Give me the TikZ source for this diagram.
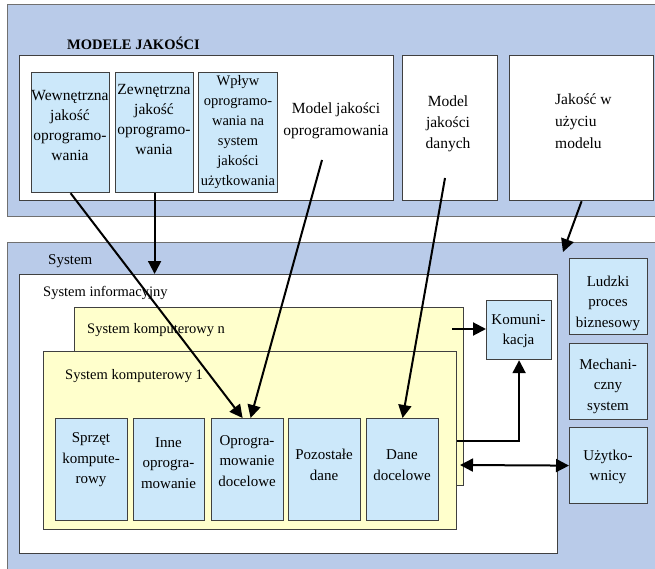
\documentclass[tikz,border=0pt]{standalone}
\usepackage{fontspec}
\setmainfont{Liberation Serif}
\usetikzlibrary{arrows.meta,calc}

\definecolor{framecol}{HTML}{404040}
\definecolor{panelblue}{HTML}{B9CBE9}
\definecolor{cellblue}{HTML}{CCE8FA}
\definecolor{cellyellow}{HTML}{FFFFCC}

\tikzset{
  box/.style={draw=framecol, line width=1.2pt, anchor=north west, inner sep=0pt},
  outerpanel/.style={box, fill=panelblue, draw=framecol!75},
  whitepanel/.style={box, fill=white},
  yellowpanel/.style={box, fill=cellyellow},
  cell/.style={box, fill=cellblue},
  txt/.style={font=\fontsize{15}{20.5}\selectfont, align=center, inner sep=0pt},
  ltxt/.style={font=\fontsize{14.5}{20.5}\selectfont, anchor=west, inner sep=0pt},
  tip/.style={Triangle[length=13pt,width=13pt]},
  conn/.style={-{Triangle[length=13pt,width=13pt]}, line width=2pt},
  bothconn/.style={{Triangle[length=13pt,width=13pt]}-{Triangle[length=13pt,width=13pt]}, line width=2pt},
}

\begin{document}
\begin{tikzpicture}[x=1pt,y=-1pt]
\useasboundingbox (0,0) rectangle (655,569);

% ---------- quality models panel ----------
\node[outerpanel, minimum width=653, minimum height=212] (top) at (7,4) {};
\node[txt, anchor=west, font=\fontsize{14.5}{20}\selectfont\bfseries] (title) at (67,43) {MODELE JAKOŚCI};
\node[whitepanel, minimum width=374, minimum height=145] (swq) at (19,55) {};
\node[cell, minimum width=78, minimum height=120] (w1) at (31,72) {};
\node[cell, minimum width=78, minimum height=120] (w2) at (115,72) {};
\node[cell, minimum width=79, minimum height=120] (w3) at (198,72) {};
\node[whitepanel, minimum width=95, minimum height=145] (mdane) at (402,55) {};
\node[whitepanel, minimum width=144, minimum height=145] (muse) at (509,55) {};

\node[txt, font=\fontsize{15.5}{20}\selectfont] (tw1) at (70,126) {Wewnętrzna\\jakość\\oprogramo-\\wania};
\node[txt, font=\fontsize{15.5}{20}\selectfont] (tw2) at (154,120) {Zewnętrzna\\jakość\\oprogramo-\\wania};
\node[txt, font=\fontsize{14.5}{20}\selectfont] (tw3) at (238,132) {Wpływ\\oprogramo-\\wania na\\system\\jakości\\użytkowania};
\node[txt, font=\fontsize{15.5}{22}\selectfont] (tswq) at (336,121) {Model jakości\\oprogramowania};
\node[txt, font=\fontsize{15.5}{21}\selectfont] (tmdane) at (448,124) {Model\\jakości\\danych};
\node[txt, align=left, anchor=west, font=\fontsize{15.5}{22}\selectfont] (tmuse) at (555,121) {Jakość w\\użyciu\\modelu};

% ---------- system panel ----------
\node[outerpanel, minimum width=653, minimum height=338] (sys) at (7,242) {};
\node[ltxt, font=\fontsize{15}{20}\selectfont] (tsys) at (48,261) {System};
\node[whitepanel, minimum width=538, minimum height=279] (sinfo) at (19,274) {};
\node[ltxt] (tsinfo) at (43,293) {System informacyjny};
\node[yellowpanel, minimum width=389, minimum height=178] (kn) at (74,307) {};
\node[ltxt] (tkn) at (87,330) {System komputerowy n};
\node[yellowpanel, minimum width=413, minimum height=178] (k1) at (43,351) {};
\node[ltxt] (tk1) at (65,376) {System komputerowy 1};

\node[cell, minimum width=72, minimum height=102] (b1) at (55,418) {};
\node[cell, minimum width=71, minimum height=102] (b2) at (133,418) {};
\node[cell, minimum width=72, minimum height=102] (b3) at (211,418) {};
\node[cell, minimum width=72, minimum height=102] (b4) at (288,418) {};
\node[cell, minimum width=72, minimum height=102] (b5) at (366,418) {};
\node[txt] (tb1) at (91,460) {Sprzęt\\kompute-\\rowy};
\node[txt] (tb2) at (168.5,463) {Inne\\oprogra-\\mowanie};
\node[txt] (tb3) at (247,461) {Oprogra-\\mowanie\\docelowe};
\node[txt] (tb4) at (324,465) {Pozostałe\\dane};
\node[txt] (tb5) at (402,465) {Dane\\docelowe};

\node[cell, minimum width=65, minimum height=59] (kom) at (486,300) {};
\node[txt] (tkom) at (518.5,331) {Komuni-\\kacja};
\node[cell, minimum width=78, minimum height=76] (lud) at (569,258) {};
\node[txt] (tlud) at (608,303) {Ludzki\\proces\\biznesowy};
\node[cell, minimum width=78, minimum height=76] (mech) at (569,343) {};
\node[txt] (tmech) at (608,386) {Mechani-\\czny\\system};
\node[cell, minimum width=78, minimum height=76] (uzyt) at (569,427) {};
\node[txt] (tuzyt) at (608,467) {Użytko-\\wnicy};

% ---------- connectors ----------
\coordinate (swqfoot) at (322,160);
\coordinate (mdanefoot) at (445,178);
\coordinate (sysentry) at (563,252);
\coordinate (knright) at (452,329);
\coordinate (k1right) at (460,465);

\draw[conn] (w1.south) -- ($(b3.north)+(-5,0)$);
\draw[conn] (swqfoot) -- ($(b3.north)+(3,0)$);
\draw[conn] (w2.south) -- (w2.south |- sinfo.north);
\draw[conn] (mdanefoot) -- (b5.north);
\draw[conn] (muse.south) -- (sysentry);
\draw[conn] (knright) -- (kom.west |- knright);
\draw[conn] (k1.east) -| (kom.south);
\draw[bothconn] (k1right) -- (uzyt.west);
\end{tikzpicture}
\end{document}
